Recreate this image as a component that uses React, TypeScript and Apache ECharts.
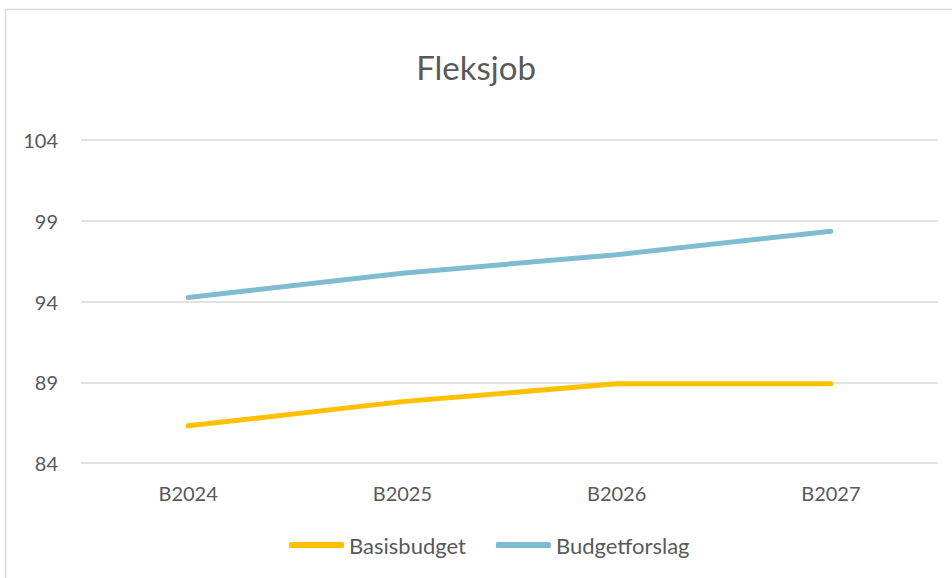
import React, { useEffect, useRef } from "react";
import * as echarts from "echarts";

const categories = ["B2024", "B2025", "B2026", "B2027"];
const basisbudget = [86.3, 87.8, 88.9, 88.9];
const budgetforslag = [94.25, 95.75, 96.9, 98.35];
const yMin = 84;
const yMax = 104;
const yInterval = 5;

export default function App() {
  const ref = useRef<HTMLDivElement>(null);
  useEffect(() => {
    document.body.style.margin = "0";
    const chart = echarts.init(ref.current!, null, { renderer: "svg" });
    const font = "Lato, 'Open Sans', sans-serif";
    chart.setOption({
      animation: false,
      backgroundColor: "#ffffff",
      title: {
        text: "Fleksjob",
        left: "center",
        top: 45,
        textStyle: { fontFamily: font, fontSize: 33, fontWeight: "normal", color: "#595959" },
      },
      graphic: [
        {
          type: "rect",
          shape: { x: 5.5, y: 9.5, width: 1000, height: 1000 },
          style: { fill: "none", stroke: "#d9d9d9", lineWidth: 1.5 },
          silent: true,
        },
      ],
      grid: { left: 81, right: 14, top: 140, bottom: 115, containLabel: false },
      legend: {
        bottom: 17,
        left: 284,
        itemWidth: 55,
        itemHeight: 6,
        itemGap: 30,
        icon: "roundRect",
        textStyle: { fontFamily: font, fontSize: 22, color: "#595959" },
        data: ["Basisbudget", "Budgetforslag"],
      },
      xAxis: {
        type: "category",
        data: categories,
        axisLine: { show: false },
        axisTick: { show: false },
        axisLabel: { fontFamily: font, fontSize: 20, color: "#595959", margin: 20 },
      },
      yAxis: {
        type: "value",
        min: yMin,
        max: yMax,
        interval: yInterval,
        axisLine: { show: false },
        axisTick: { show: false },
        splitLine: { lineStyle: { color: "#d9d9d9", width: 1.5 } },
        axisLabel: { fontFamily: font, fontSize: 20, color: "#595959", margin: 23 },
      },
      series: [
        {
          name: "Basisbudget",
          type: "line",
          data: basisbudget,
          symbol: "none",
          color: "#FFC000",
          lineStyle: { width: 5, cap: "round", join: "round" },
        },
        {
          name: "Budgetforslag",
          type: "line",
          data: budgetforslag,
          symbol: "none",
          color: "#80BCD1",
          lineStyle: { width: 5, cap: "round", join: "round" },
        },
      ],
    });
    return () => chart.dispose();
  }, []);
  return <div ref={ref} style={{ width: 952, height: 578 }} />;
}
